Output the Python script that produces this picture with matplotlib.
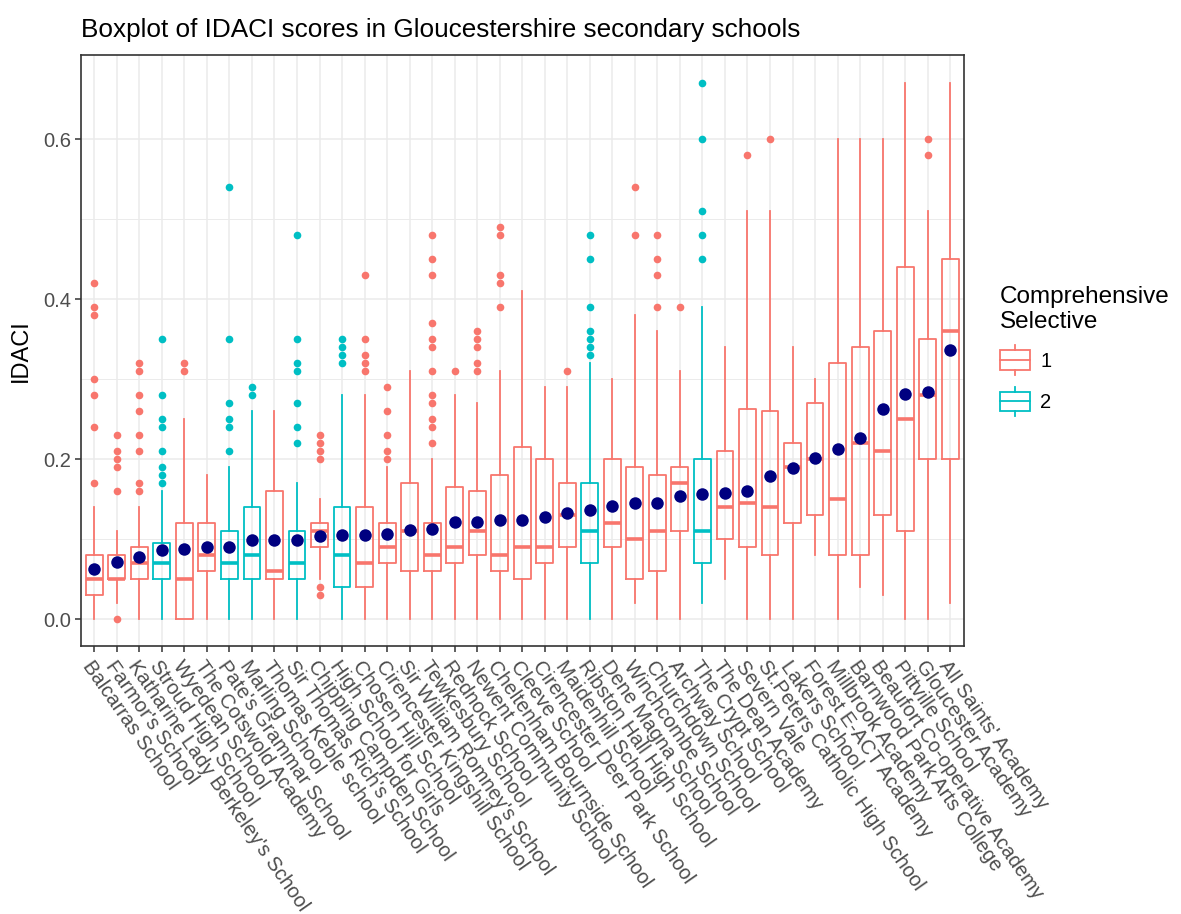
import matplotlib
matplotlib.use("Agg")
import matplotlib.pyplot as plt
from matplotlib.patches import Rectangle
from matplotlib.lines import Line2D
from matplotlib.legend_handler import HandlerBase

plt.rcParams["font.family"] = ["Liberation Sans", "DejaVu Sans"]

# ---- data -------------------------------------------------------------
schools = [
    "Balcarras School", "Farmor's School", "Katharine Lady Berkeley's School",
    "Stroud High School", "Wyedean School", "The Cotswold Academy",
    "Pate's Grammar School", "Marling School", "Thomas Keble school",
    "Sir Thomas Rich's School", "Chipping Campden School", "High School for Girls",
    "Chosen Hill School", "Cirencester Kingshill School", "Sir William Romney's School",
    "Tewkesbury School", "Rednock School", "Newent Community School",
    "Cheltenham Bournside School", "Cleeve School", "Cirencester Deer Park School",
    "Maidenhill School", "Ribston Hall High School", "Dene Magna School",
    "Winchcombe School", "Churchdown School", "Archway School",
    "The Crypt School", "The Dean Academy", "Severn Vale",
    "St.Peters Catholic High School", "Lakers School", "Forest E-ACT Academy",
    "Millbrook Academy", "Barnwood Park Arts College", "Beaufort Co-operative Academy",
    "Pittville School", "Gloucester Academy", "All Saints' Academy",
]

# 1 = comprehensive, 2 = selective
school_type = [1, 1, 1, 2, 1, 1, 2, 2, 1, 2, 1, 2, 1, 1, 1, 1, 1, 1, 1, 1,
               1, 1, 2, 1, 1, 1, 1, 2, 1, 1, 1, 1, 1, 1, 1, 1, 1, 1, 1]

whisker_low = [0.00, 0.02, 0.00, 0.00, 0.00, 0.00, 0.00, 0.00, 0.00, 0.00,
               0.05, 0.00, 0.00, 0.00, 0.00, 0.00, 0.00, 0.00, 0.00, 0.00,
               0.00, 0.00, 0.00, 0.00, 0.02, 0.00, 0.00, 0.02, 0.05, 0.00,
               0.00, 0.00, 0.08, 0.00, 0.04, 0.03, 0.00, 0.00, 0.02]
q1 = [0.03, 0.05, 0.05, 0.05, 0.00, 0.06, 0.05, 0.05, 0.05, 0.05,
      0.09, 0.04, 0.04, 0.07, 0.06, 0.06, 0.07, 0.08, 0.06, 0.05,
      0.07, 0.09, 0.07, 0.09, 0.05, 0.06, 0.11, 0.07, 0.10, 0.09,
      0.08, 0.12, 0.13, 0.08, 0.08, 0.13, 0.11, 0.20, 0.20]
median = [0.05, 0.05, 0.07, 0.07, 0.05, 0.08, 0.07, 0.08, 0.06, 0.07,
          0.11, 0.08, 0.07, 0.09, 0.11, 0.08, 0.09, 0.11, 0.08, 0.09,
          0.09, 0.13, 0.11, 0.12, 0.10, 0.11, 0.17, 0.11, 0.14, 0.145,
          0.14, 0.19, 0.20, 0.15, 0.22, 0.21, 0.25, 0.28, 0.36]
q3 = [0.08, 0.08, 0.09, 0.095, 0.12, 0.12, 0.11, 0.14, 0.16, 0.11,
      0.12, 0.14, 0.14, 0.12, 0.17, 0.12, 0.165, 0.16, 0.18, 0.215,
      0.20, 0.17, 0.17, 0.20, 0.19, 0.18, 0.19, 0.20, 0.21, 0.263,
      0.26, 0.22, 0.27, 0.32, 0.34, 0.36, 0.44, 0.35, 0.45]
whisker_high = [0.14, 0.11, 0.14, 0.16, 0.25, 0.18, 0.19, 0.26, 0.26, 0.17,
                0.15, 0.28, 0.28, 0.19, 0.31, 0.20, 0.28, 0.27, 0.31, 0.41,
                0.29, 0.29, 0.32, 0.30, 0.38, 0.36, 0.31, 0.39, 0.34, 0.51,
                0.51, 0.34, 0.30, 0.60, 0.60, 0.60, 0.67, 0.51, 0.67]
mean_idaci = [0.063, 0.071, 0.078, 0.086, 0.088, 0.090, 0.090, 0.099, 0.099, 0.099,
              0.104, 0.105, 0.105, 0.107, 0.111, 0.113, 0.122, 0.122, 0.124, 0.124,
              0.128, 0.133, 0.136, 0.141, 0.145, 0.145, 0.154, 0.156, 0.158, 0.160,
              0.179, 0.189, 0.202, 0.213, 0.227, 0.263, 0.282, 0.284, 0.337]
outliers = [
    [0.42, 0.39, 0.38, 0.30, 0.28, 0.24, 0.17],
    [0.23, 0.21, 0.20, 0.19, 0.16, 0.00],
    [0.32, 0.31, 0.28, 0.26, 0.23, 0.21, 0.17, 0.16],
    [0.35, 0.28, 0.25, 0.24, 0.21, 0.19, 0.18, 0.17],
    [0.32, 0.31],
    [],
    [0.54, 0.35, 0.27, 0.25, 0.24, 0.21],
    [0.29, 0.28],
    [],
    [0.48, 0.35, 0.32, 0.31, 0.27, 0.24, 0.22],
    [0.23, 0.22, 0.21, 0.20, 0.04, 0.03],
    [0.35, 0.34, 0.33, 0.32],
    [0.43, 0.35, 0.33, 0.32, 0.31],
    [0.29, 0.26, 0.23, 0.21, 0.20],
    [],
    [0.48, 0.45, 0.43, 0.37, 0.35, 0.34, 0.31, 0.28, 0.27, 0.25, 0.24, 0.22],
    [0.31],
    [0.36, 0.35, 0.34, 0.32, 0.31],
    [0.49, 0.48, 0.43, 0.42, 0.39],
    [],
    [],
    [0.31],
    [0.48, 0.45, 0.39, 0.36, 0.35, 0.34, 0.33],
    [],
    [0.54, 0.48],
    [0.48, 0.45, 0.43, 0.39],
    [0.39],
    [0.67, 0.60, 0.51, 0.48, 0.45],
    [],
    [0.58],
    [0.60],
    [],
    [],
    [],
    [],
    [],
    [],
    [0.60, 0.58],
    [],
]

type_levels = [1, 2]
type_colors = {1: "#F8766D", 2: "#00BFC4"}

# ---- figure -----------------------------------------------------------
fig = plt.figure(figsize=(11.81, 9.14), dpi=100)
ax = fig.add_axes([0.0684, 0.2932, 0.7476, 0.6466])

stats = []
for i, name in enumerate(schools):
    stats.append(dict(label=name, whislo=whisker_low[i], q1=q1[i], med=median[i],
                      q3=q3[i], whishi=whisker_high[i], mean=mean_idaci[i],
                      fliers=outliers[i]))

positions = list(range(1, len(schools) + 1))
art = ax.bxp(stats, positions=positions, widths=0.75, showmeans=True,
             showcaps=False, patch_artist=False,
             boxprops=dict(linewidth=1.3),
             whiskerprops=dict(linewidth=1.3),
             medianprops=dict(linewidth=2.6),
             flierprops=dict(marker="o", markersize=5.5, markeredgewidth=0),
             meanprops=dict(marker="o", markersize=9, markerfacecolor="#000080",
                            markeredgecolor="#000080", markeredgewidth=0))

for i, t in enumerate(school_type):
    c = type_colors[t]
    art["boxes"][i].set_color(c)
    art["medians"][i].set_color(c)
    art["whiskers"][2 * i].set_color(c)
    art["whiskers"][2 * i + 1].set_color(c)
    art["fliers"][i].set_markerfacecolor(c)
    art["means"][i].set_zorder(4)

# ---- axes styling -------------------------------------------------------
ax.set_xlim(0.4, len(schools) + 0.6)
ax.set_ylim(-0.0336, 0.7056)
ax.set_yticks([0.0, 0.2, 0.4, 0.6])
ax.set_yticklabels(["0.0", "0.2", "0.4", "0.6"])
ax.set_yticks([0.1, 0.3, 0.5], minor=True)
ax.set_xticks(positions)
ax.set_xticklabels(schools, rotation=-55, ha="left", va="top",
                   rotation_mode="anchor")

ax.set_axisbelow(True)
ax.grid(which="major", axis="both", color="#EBEBEB", linewidth=1.1)
ax.grid(which="minor", axis="y", color="#EBEBEB", linewidth=0.7)
for s in ax.spines.values():
    s.set_color("#333333")
    s.set_linewidth(1.2)
ax.tick_params(which="major", length=4, width=1.1, color="#333333",
               labelcolor="#4D4D4D", labelsize=14.5)
ax.tick_params(axis="x", pad=4)
ax.tick_params(axis="y", pad=3)
ax.tick_params(which="minor", length=0)

ax.set_ylabel("IDACI", fontsize=17, color="black", labelpad=8)
ax.set_title("Boxplot of IDACI scores in Gloucestershire secondary schools",
             loc="left", fontsize=18.8, pad=13, color="black")


# ---- legend -----------------------------------------------------------
class BoxKeyHandler(HandlerBase):
    def create_artists(self, legend, orig_handle, xdescent, ydescent,
                       width, height, fontsize, trans):
        c = orig_handle.get_edgecolor()
        x0, y0 = -xdescent, -ydescent
        cx = x0 + width / 2
        bh = height * 0.66
        by = y0 + (height - bh) / 2
        box = Rectangle((x0, by), width, bh, fill=False, edgecolor=c,
                        linewidth=1.3, transform=trans)
        med = Line2D([x0, x0 + width], [by + bh / 2] * 2, color=c,
                     linewidth=1.3, transform=trans)
        w1 = Line2D([cx, cx], [y0, by], color=c, linewidth=1.3, transform=trans)
        w2 = Line2D([cx, cx], [by + bh, y0 + height], color=c, linewidth=1.3,
                    transform=trans)
        return [box, med, w1, w2]


handles = [Rectangle((0, 0), 1, 1, facecolor="none", edgecolor=type_colors[t])
           for t in type_levels]
leg = fig.legend(handles, [str(t) for t in type_levels],
                 handler_map={Rectangle: BoxKeyHandler()},
                 title="Comprehensive\nSelective", title_fontsize=17.5,
                 fontsize=14.5, loc="upper left",
                 bbox_to_anchor=(1000 / 1181, 1 - 286 / 914),
                 frameon=False, borderpad=0, borderaxespad=0,
                 handlelength=1.5, handleheight=1.85, labelspacing=0.6,
                 handletextpad=0.5, alignment="left")

fig.savefig("out.png", dpi=100)
